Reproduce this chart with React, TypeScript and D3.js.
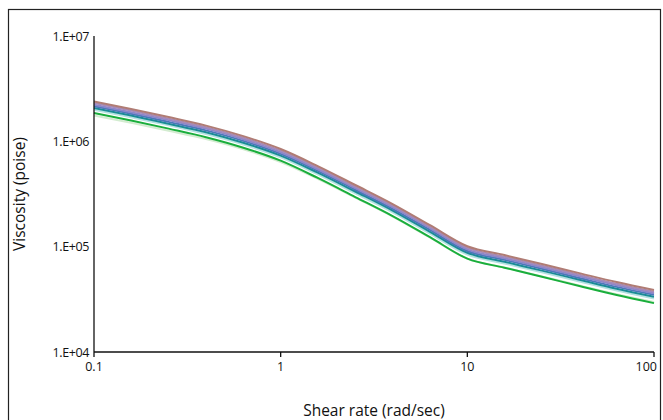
import React from "react";
import * as d3 from "d3";

const shearRates = [0.1, 0.158, 0.251, 0.398, 0.631, 1, 1.58, 2.51, 3.98, 6.31, 10, 15.8, 25.1, 39.8, 63.1, 100];

const brown = [2.39e6, 2.03e6, 1.7e6, 1.41e6, 1.12e6, 8.45e5, 5.82e5, 3.85e5, 2.54e5, 1.6e5, 1.01e5, 8.32e4, 6.84e4, 5.61e4, 4.61e4, 3.87e4];
const purple = [2.31e6, 1.96e6, 1.64e6, 1.36e6, 1.08e6, 8.16e5, 5.62e5, 3.71e5, 2.45e5, 1.54e5, 9.75e4, 8.03e4, 6.6e4, 5.41e4, 4.45e4, 3.73e4];
const lavender = [2.23e6, 1.89e6, 1.59e6, 1.32e6, 1.045e6, 7.88e5, 5.43e5, 3.59e5, 2.37e5, 1.5e5, 9.42e4, 7.76e4, 6.38e4, 5.23e4, 4.3e4, 3.61e4];
const blue = [2.15e6, 1.83e6, 1.53e6, 1.27e6, 1.01e6, 7.61e5, 5.25e5, 3.47e5, 2.29e5, 1.44e5, 9.1e4, 7.5e4, 6.16e4, 5.05e4, 4.15e4, 3.49e4];
const teal = [2.07e6, 1.76e6, 1.47e6, 1.22e6, 9.7e5, 7.32e5, 5.04e5, 3.34e5, 2.2e5, 1.385e5, 8.75e4, 7.2e4, 5.92e4, 4.86e4, 3.99e4, 3.35e4];
const lightCyan = [1.99e6, 1.69e6, 1.42e6, 1.17e6, 9.33e5, 7.04e5, 4.85e5, 3.2e5, 2.12e5, 1.33e5, 8.41e4, 6.93e4, 5.7e4, 4.67e4, 3.84e4, 3.22e4];
const green = [1.86e6, 1.58e6, 1.32e6, 1.095e6, 8.7e5, 6.55e5, 4.49e5, 2.96e5, 1.95e5, 1.23e5, 7.7e4, 6.32e4, 5.18e4, 4.23e4, 3.47e4, 2.91e4];
const lightGreen = [1.76e6, 1.5e6, 1.26e6, 1.05e6, 8.4e5, 6.35e5, 4.4e5, 2.92e5, 1.93e5, 1.22e5, 7.7e4, 6.35e4, 5.22e4, 4.29e4, 3.53e4, 2.98e4];

const series = [
  { name: "S8", values: lightGreen, color: "#d3ecd0" },
  { name: "S7", values: green, color: "#1aae3c" },
  { name: "S6", values: lightCyan, color: "#b4e2e0" },
  { name: "S5", values: teal, color: "#1a8c96" },
  { name: "S4", values: blue, color: "#4a78b8" },
  { name: "S3", values: lavender, color: "#8a86cc" },
  { name: "S2", values: purple, color: "#a68ab8" },
  { name: "S1", values: brown, color: "#b07c74" },
];

const xTicks = [0.1, 1, 10, 100];
const xTickLabels = ["0.1", "1", "10", "100"];
const yTicks = [1e4, 1e5, 1e6, 1e7];
const yTickLabels = ["1.E+04", "1.E+05", "1.E+06", "1.E+07"];

const W = 663;
const H = 420;
const left = 94;
const right = 654;
const top = 36;
const bottom = 352;
const font = "'Open Sans', 'DejaVu Sans', sans-serif";

export default function App() {
  const x = d3.scaleLog().domain([0.1, 100]).range([left, right]);
  const y = d3.scaleLog().domain([1e4, 1e7]).range([bottom, top]);
  const line = d3
    .line<number>()
    .x((_, i) => x(shearRates[i]))
    .y((v) => y(v))
    .curve(d3.curveMonotoneX);

  return (
    <svg
      width={W}
      height={H}
      style={{ position: "absolute", left: 0, top: 0, background: "#fff" }}
    >
      <rect x={8.5} y={9.5} width={652} height={430} fill="none" stroke="#222" strokeWidth={1.2} />
      {series.map((s) => (
        <path key={s.name} d={line(s.values) || ""} fill="none" stroke={s.color} strokeWidth={2} />
      ))}
      <line x1={left} x2={left} y1={top} y2={bottom} stroke="#111" strokeWidth={1.3} />
      <line x1={left} x2={right} y1={bottom} y2={bottom} stroke="#111" strokeWidth={1.3} />
      {xTicks.map((t, i) => (
        <g key={t}>
          <line x1={x(t)} x2={x(t)} y1={bottom} y2={bottom + 5} stroke="#111" strokeWidth={1.3} />
          <text
            x={i === xTicks.length - 1 ? x(t) + 3 : x(t)}
            y={bottom + 19}
            textAnchor={i === xTicks.length - 1 ? "end" : "middle"}
            fontFamily={font}
            fontSize={12.5}
            fill="#111"
          >
            {xTickLabels[i]}
          </text>
        </g>
      ))}
      {yTicks.map((t, i) => (
        <text key={t} x={left - 5} y={y(t) + 4.5} textAnchor="end" fontFamily={font} fontSize={12.5} fill="#111" letterSpacing={-0.4}>
          {yTickLabels[i]}
        </text>
      ))}
      <text x={(left + right) / 2} y={416} textAnchor="middle" fontFamily={font} fontSize={15.5} fill="#111">
        Shear rate (rad/sec)
      </text>
      <text
        transform={`translate(25, ${(top + bottom) / 2}) rotate(-90)`}
        textAnchor="middle"
        fontFamily={font}
        fontSize={15.5}
        fill="#111"
      >
        Viscosity (poise)
      </text>
    </svg>
  );
}
